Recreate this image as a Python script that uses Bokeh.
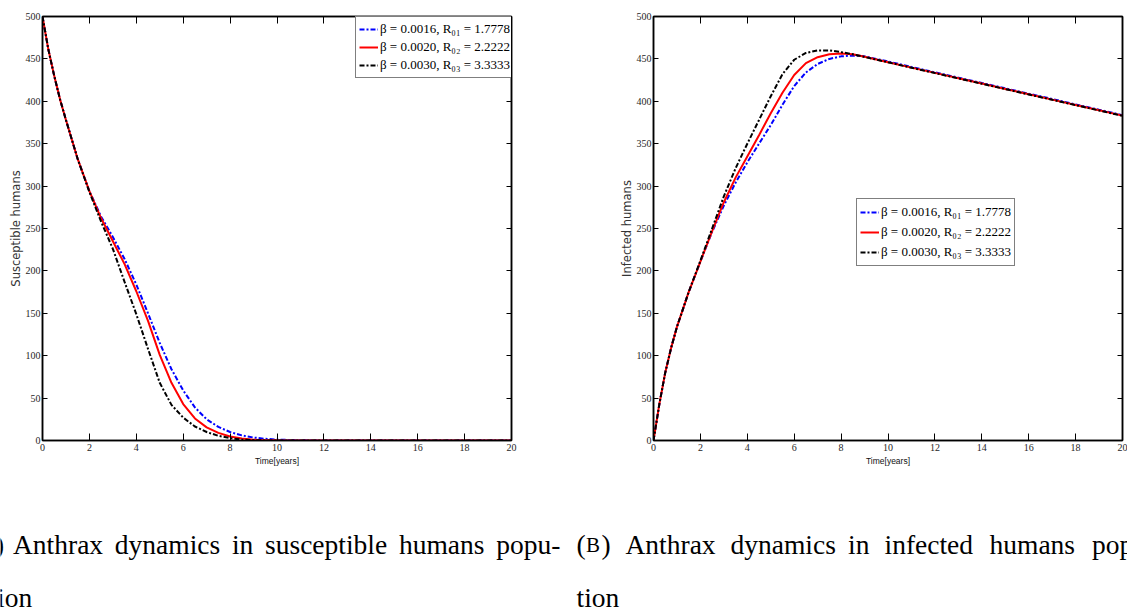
from bokeh.plotting import figure
from bokeh.models import Range1d, FixedTicker, LinearAxis, Legend, LegendItem
from bokeh.layouts import row, column
from bokeh.embed import file_html
from bokeh.resources import INLINE
from bokeh.core.properties import value

# ---- data -------------------------------------------------------------
years = [0, 0.25, 0.5, 0.75, 1, 1.5, 2, 2.5, 3, 3.5, 4, 4.5, 5, 5.5, 6, 6.5,
         7, 7.5, 8, 8.5, 9, 9.5, 10, 11, 12, 13, 14, 15, 16, 17, 18, 19, 20]

# susceptible humans
sus_b0016 = [500, 461, 430, 402, 378, 332, 294, 264, 240, 214, 184, 150, 115, 84, 59, 39,
             25, 16, 10, 6, 3.5, 2, 1, 0.3, 0, 0, 0, 0, 0, 0, 0, 0, 0]
sus_b0020 = [500, 461, 430, 402, 378, 332, 294, 262, 235, 208, 176, 141, 101, 68, 43, 26,
             15.5, 9, 4.8, 2.3, 1, 0.4, 0.15, 0, 0, 0, 0, 0, 0, 0, 0, 0, 0]
sus_b0030 = [500, 461, 430, 402, 378, 332, 293, 258, 226, 187, 149, 108, 68, 42, 27, 16.5,
             10, 5.5, 2.8, 1.1, 0.4, 0.1, 0, 0, 0, 0, 0, 0, 0, 0, 0, 0, 0]

# infected humans
inf_b0016 = [0, 43, 80, 109, 134, 175, 211, 246, 277, 304, 328, 350, 372, 396, 418, 434,
             444, 450, 453, 454, 453, 450, 447, 440.5, 434.2, 427.9, 421.6, 415.3, 409,
             402.7, 396.4, 390, 383.7]
inf_b0020 = [0, 43, 80, 109, 134, 175, 211, 247, 281, 310, 335, 360, 386, 410, 431, 445,
             452, 455.5, 456.5, 455.5, 452.5, 449.3, 446, 439.7, 433.5, 427.2, 420.9,
             414.6, 408.3, 402, 395.7, 389.4, 383.1]
inf_b0030 = [0, 43, 80, 109, 134, 175, 212, 250, 288, 321, 350, 378, 406, 432, 449, 457,
             460, 460, 458, 455.5, 452.3, 449.2, 446, 439.6, 433.3, 427, 420.7, 414.4,
             408.1, 401.8, 395.5, 389.2, 382.9]

legend_labels = ["β = 0.0016, R₀₁ = 1.7778",
                 "β = 0.0020, R₀₂ = 2.2222",
                 "β = 0.0030, R₀₃ = 3.3333"]

x_ticks = list(range(0, 21, 2))
y_ticks = list(range(0, 501, 50))

TICK_FONT = "Liberation Sans Narrow"


def style_axis(ax, ticks, tick_len, show_labels=True):
    ax.ticker = FixedTicker(ticks=ticks)
    ax.major_tick_in = tick_len
    ax.major_tick_out = 0
    ax.minor_tick_line_color = None
    ax.axis_line_width = 1.5
    ax.axis_line_color = "black"
    ax.major_tick_line_width = 1
    ax.major_tick_line_color = "black"
    if show_labels:
        ax.major_label_text_font = TICK_FONT
        ax.major_label_text_font_size = "10px"
        ax.major_label_text_color = "#262626"
    else:
        # tick marks only: the mirrored axes carry no numbers
        ax.major_label_text_color = None
        ax.major_label_text_font_size = "1px"
        ax.major_label_standoff = 0


def panel(ylabel, series, border_left, border_right, legend_loc, legend_row):
    p = figure(frame_width=469, frame_height=424,
               min_border_left=border_left, min_border_right=border_right,
               min_border_top=16, min_border_bottom=40,
               x_range=Range1d(0, 20), y_range=Range1d(0, 500),
               output_backend="svg", toolbar_location=None,
               background_fill_color="white", border_fill_color="white")
    p.grid.visible = False
    p.outline_line_color = "black"
    p.outline_line_width = 1.5

    xa = p.xaxis[0]
    ya = p.yaxis[0]
    style_axis(xa, x_ticks, 7)
    style_axis(ya, y_ticks, 5)
    xa.major_label_standoff = 3
    ya.major_label_standoff = 2

    xa.axis_label = "Time[years]"
    xa.axis_label_text_font = "Liberation Sans"
    xa.axis_label_text_font_size = "8.5px"
    xa.axis_label_text_font_style = "normal"
    xa.axis_label_text_color = "#111111"
    xa.axis_label_standoff = 2

    ya.axis_label = ylabel
    ya.axis_label_text_font = "DejaVu Sans"
    ya.axis_label_text_font_size = "11.5px"
    ya.axis_label_text_font_style = "normal"
    ya.axis_label_text_color = "#333333"
    ya.axis_label_standoff = 0

    top = LinearAxis()
    style_axis(top, x_ticks, 7, show_labels=False)
    p.add_layout(top, "above")
    right = LinearAxis()
    style_axis(right, y_ticks, 5, show_labels=False)
    p.add_layout(right, "right")

    b, r, k = series
    rb = p.line(years, b, line_color="#0000ff", line_width=2, line_dash="5 2 2 2")
    rr = p.line(years, r, line_color="#ff0000", line_width=2)
    rk = p.line(years, k, line_color="black", line_width=2, line_dash="5 2 2 2")

    items = [LegendItem(label=lab, renderers=[rend])
             for lab, rend in zip(legend_labels, [rb, rr, rk])]
    leg = Legend(items=items, location=legend_loc, margin=0,
                 padding=3, spacing=0,
                 glyph_width=19, glyph_height=legend_row, label_height=legend_row,
                 label_standoff=2,
                 label_text_font="Liberation Serif", label_text_font_size="13px",
                 label_text_color="black",
                 border_line_color="black", border_line_width=1,
                 background_fill_color="white", background_fill_alpha=1)
    p.add_layout(leg)
    return p


p1 = panel("Susceptible humans", (sus_b0016, sus_b0020, sus_b0030),
           42, 52, (313, 362), 18)
p2 = panel("Infected humans", (inf_b0016, inf_b0020, inf_b0030),
           90, 5, (203, 174), 20)

# ---- captions below the two panels ------------------------------------
cap = figure(width=1127, height=131, x_range=Range1d(0, 1127), y_range=Range1d(131, 0),
             min_border=0, output_backend="svg", toolbar_location=None,
             background_fill_color="white", border_fill_color="white")
cap.axis.visible = False
cap.grid.visible = False
cap.outline_line_color = None

LINE1, LINE2 = 64, 117
CAP_SIZE = "27.5px"
words_x = [12.5, 114.3, 231.4, 264.5, 398.4, 495.7,
           -31,
           625, 730, 847.5, 884, 989, 1091.6,
           576]
words_y = [LINE1] * 6 + [LINE2] + [LINE1] * 6 + [LINE2]
words = ["Anthrax", "dynamics", "in", "susceptible", "humans", "popu-",
         "lation",
         "Anthrax", "dynamics", "in", "infected", "humans", "popula-",
         "tion"]
cap.text(x=words_x, y=words_y, text=words, text_font=value("Liberation Serif"),
         text_font_size=CAP_SIZE, text_color="black", text_baseline="alphabetic",
         text_align="left")

# sub-figure tags, with the letter set in small capitals
paren_x = [-29.5, -5.6, 576, 601]
cap.text(x=paren_x, y=[LINE1] * 4, text=["(", ")", "(", ")"],
         text_font=value("Liberation Serif"), text_font_size=CAP_SIZE,
         text_color="black", text_baseline="alphabetic", text_align="left")
cap.text(x=[-20.3, 585.5], y=[LINE1, LINE1], text=["A", "B"],
         text_font=value("Liberation Serif"), text_font_size="21px",
         text_color="black", text_baseline="alphabetic", text_align="left")

layout = column(row(p1, p2), cap)
open("out.html", "w").write(file_html(layout, INLINE))
